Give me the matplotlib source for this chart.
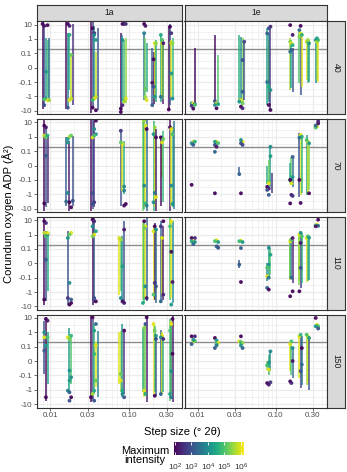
"""Corundum oxygen ADP vs step size, faceted by pattern (1a/1e) and count time."""
import matplotlib

matplotlib.use("Agg")
import matplotlib.pyplot as plt
import numpy as np
from matplotlib.cm import ScalarMappable
from matplotlib.colors import LogNorm

plt.rcParams.update(
    {
        "font.family": ["Liberation Sans", "DejaVu Sans"],
        "mathtext.fontset": "custom",
        "mathtext.rm": "Liberation Sans",
        "mathtext.it": "Liberation Sans:italic",
        "axes.linewidth": 0.8,
    }
)

W, H = 347, 472

COLS = ["1a", "1e"]
ROWS = ["40", "70", "110", "150"]
STEP_SIZE = [0.0088, 0.0175, 0.036, 0.082, 0.16, 0.21, 0.26, 0.34]
X_TICKS = [0.01, 0.03, 0.1, 0.3]
X_TICK_LABELS = ["0.01", "0.03", "0.10", "0.30"]
Y_TICKS = [10, 1, 0.1, 0, -0.1, -1, -10]
Y_TICK_LABELS = ["10", "1", "0.1", "0", "-0.1", "-1", "-10"]
REFERENCE_ADP = 0.2
COLOR_TICKS = [1e2, 1e3, 1e4, 1e5, 1e6]
COLOR_TICK_LABELS = [r"$\mathregular{10^{%d}}$" % k for k in range(2, 7)]

# bars: (step cluster, dodge slot, low, high, log10 max intensity)
# points: (step cluster, dodge slot, ADP, log10 max intensity)
BARS_1A_40 = [
    (0, -2, -6.9, 16, 2.0), (0, -1, -5.3, 11, 2.8), (0, 0, -1.4, 1.1, 4.2), (0, 1, -1.05, 0.85, 4.8), (0, 2, -2.3, 1.1, 3.5),
    (1, -2, -6.9, 16, 2.0), (1, -1, -5.3, 2.5, 3.8), (1, 0, -0.36, 1.9, 4.5), (1, 1, -1.4, 0.1, 5.8), (1, 2, -4, 11, 2.5),
    (2, -2, -15, 16, 2.0), (2, -1, -6.9, 16, 2.8), (2, 0, -1.8, 8, 4.0), (2, 1, -1.4, 0.13, 5.8), (2, 2, -9, 5.5, 3.0),
    (3, -1, -15, 2.5, 2.0), (3, 0, -2.3, 1.9, 4.0), (3, 1, -2.3, 0.85, 4.9), (3, 2, -3, 1.1, 5.5),
    (4, -1, -1.8, 2.5, 3.6), (4, 0, -1.4, 1.1, 5.2), (4, 1, -0.5, 0.5, 4.6),
    (5, -2, -4, 0.22, 3.2), (5, -1, -3.1, 0.13, 2.0), (5, 0, -1.4, 0.5, 6.0), (5, 1, -2.3, 0.85, 4.6),
    (6, -1, -2.3, 1.9, 4.5), (6, 0, -1.05, 1.1, 6.0), (6, 1, -3.1, 0.85, 2.2), (6, 1, -1.4, 0.5, 5.2),
    (7, -2, -9, 8, 2.0), (7, -1, -4, 11, 3.0), (7, 0, -1.05, 0.85, 6.0), (7, 1, -1.4, 1.1, 4.8),
]
POINTS_1A_40 = [
    (0, -2, 11, 2.0), (0, -1, 8, 2.2), (0, 1, 9, 2.0), (0, 0, -0.028, 4.2), (0, -1, -4, 3.0), (0, 0, -1.4, 4.2),
    (0, 1, -1.8, 6.0), (0, 2, -1.8, 5.6), (0, -1, -1.6, 5.0),
    (1, -1, 11, 2.0), (1, 0, 1.9, 4.5), (1, 1, 0.088, 5.2), (1, 1, -1.4, 5.8), (1, 0, -1.8, 6.0), (1, -1, -6, 3.0), (1, 0, 8, 2.3),
    (2, -1, 5.5, 2.0), (2, 0, 2.5, 2.5), (2, -1, -6, 2.0), (2, 1, -9, 2.0), (2, 0, 1.9, 4.0), (2, 1, 0.85, 4.2),
    (2, 1, -1.05, 5.8), (2, 0, -1.4, 6.0), (2, -1, -1.8, 4.8),
    (3, 0, 11, 2.0), (3, 1, 11, 2.2), (3, 2, 11, 2.5), (3, -1, -6.9, 2.0), (3, 0, -4, 2.4), (3, 0, 0.85, 4.0),
    (3, 1, -1.8, 4.8), (3, 2, -1.4, 6.0), (3, 1, -2.3, 5.6), (3, -1, -12, 2.0),
    (4, -1, 11, 2.0), (4, 0, 8, 2.2), (4, -1, 2.5, 3.8), (4, 0, -0.3, 5.2), (4, 0, -1.1, 5.6), (4, 1, -1.8, 6.0),
    (5, 0, 0.5, 6.0), (5, -1, 0.058, 2.0), (5, -2, -0.11, 2.2), (5, -1, -0.21, 3.0), (5, -2, -4, 3.2), (5, 1, 0.5, 5.5), (5, 0, -1.05, 4.2),
    (6, -1, 1.9, 4.5), (6, 0, 0.5, 6.0), (6, 1, 0.5, 2.2), (6, 0, 0.85, 5.0), (6, -1, -1.05, 3.5),
    (7, -1, 7, 2.0), (7, 0, 2.5, 2.5), (7, -2, -8, 2.0), (7, 0, 0.5, 6.0), (7, 1, 0.5, 5.5), (7, 0, -0.04, 4.2), (7, 1, -1.4, 4.0),
]

BARS_1A_70 = [
    (0, -1, -14, 17, 2.0), (0, 0, -8, 4.5, 3.0), (0, 1, -4.3, 0.9, 2.4),
    (1, -2, -6.1, 0.9, 3.2), (1, 2, -6.1, 1.2, 3.0), (1, 0, -14, 0.53, 2.2),
    (2, -2, -14, 17, 2.0), (2, -1, -10.5, 17, 3.0), (2, 0, -8, 13, 2.6),
    (3, -1, -6.1, 2.6, 3.0), (3, 0, -0.55, 0.4, 6.0), (3, 1, -0.95, 0.53, 4.6),
    (4, -2, -14, 17, 5.3), (4, -1, -10.5, 13, 4.5), (4, 0, -8, 5.9, 6.0), (4, 1, -14, 17, 3.4),
    (5, -1, -14, 13, 4.8), (5, 0, -8, 4.5, 6.0), (5, 1, -14, 3.4, 2.2),
    (6, 0, -0.082, 0.53, 6.0), (6, -1, -6.1, 1.2, 2.0), (6, 1, -3.2, 2.6, 4.8),
    (7, -1, -14, 17, 2.2), (7, 0, -6.1, 5.9, 6.0), (7, 1, -8, 4.5, 4.8), (7, 2, -10.5, 13, 3.6),
]
POINTS_1A_70 = [
    (0, -1, 5.9, 2.0), (0, 0, 4.5, 2.2), (0, -1, 1.2, 5.8), (0, 0, 0.9, 5.2), (0, 1, 1.2, 4.6), (0, 0, 0.068, 3.2), (0, -1, -4.3, 2.0),
    (1, 0, 1.0, 5.8), (1, 1, 1.2, 5.2), (1, -1, 0.69, 4.4), (1, -1, 0.4, 4.2), (1, -1, -0.8, 3.8), (1, -2, -3.2, 3.4),
    (1, 0, -3.6, 2.0), (1, 1, -8, 2.0), (1, 2, -2.8, 3.0),
    (2, 1, 13, 2.0), (2, 0, 3.4, 4.0), (2, 1, 1.5, 4.2), (2, -1, 0.9, 6.0), (2, 0, 1.2, 5.0), (2, -1, -0.8, 3.0),
    (2, 0, -3.6, 2.6), (2, -1, -4.7, 3.0),
    (3, -1, 2.6, 2.6), (3, 0, 0.31, 6.0), (3, -1, 0.4, 5.2), (3, 1, -0.29, 4.0), (3, 1, -0.55, 3.8), (3, 2, -4.7, 2.0), (3, 1, -6.1, 2.0),
    (4, -1, 13, 5.6), (4, 0, 5.9, 6.0), (4, 1, 3.4, 2.0), (4, -1, -0.25, 4.0), (4, 0, -4.3, 4.8), (4, 1, -6.1, 3.8),
    (5, 0, 4.5, 5.5), (5, -1, 1.5, 4.2), (5, 1, 0.9, 2.0), (5, 0, -0.8, 3.6), (5, 1, -1.6, 6.0), (5, -1, -3.6, 4.0),
    (6, -1, 0.9, 2.0), (6, 0, 0.4, 6.0), (6, 1, 0.69, 5.2),
    (7, -1, 4.5, 2.0), (7, 0, 3.4, 6.0), (7, 1, 1.5, 5.0), (7, 0, -0.25, 4.0), (7, 1, -4.7, 4.2),
]

BARS_1A_110 = [
    (0, -1, -7.4, 14, 2.0), (0, 0, -4.4, 1.7, 3.0), (0, 1, -0.88, 1.3, 4.5),
    (1, -1, -7.4, 1.7, 3.0),
    (2, -1, -7.4, 16, 2.0), (2, 0, -5.7, 14, 3.0),
    (3, -2, -1.5, 0.57, 6.0), (3, -1, -0.88, 0.44, 5.2), (3, 0, -4.4, 0.75, 4.2), (3, 1, -5.7, 8.3, 3.0),
    (4, -2, -3.3, 6.3, 5.6), (4, -1, -5.7, 8.3, 4.8), (4, 0, -2.6, 3.7, 6.0), (4, 1, -4.4, 14, 3.2),
    (5, -1, -3.3, 3.7, 6.0), (5, 0, -3.3, 6.3, 2.2), (5, 1, -5.7, 2.8, 3.4),
    (6, -1, -5.7, 8.3, 3.3), (6, 0, -1.5, 0.75, 6.0), (6, 1, -3.3, 3.7, 2.2),
    (7, -1, -3.3, 14, 5.0), (7, 0, -2.6, 11, 6.0), (7, 1, -5.7, 8.3, 4.0),
]
POINTS_1A_110 = [
    (0, -1, 8.3, 2.0), (0, 0, 6.3, 2.4), (0, -1, 1.3, 5.8), (0, 0, 0.75, 5.0), (0, 1, 0.98, 4.2), (0, 0, 0.025, 3.2),
    (0, -1, -3.3, 2.0), (0, 1, 1.3, 6.0),
    (1, 1, 1.3, 6.0), (1, 0, 0.98, 5.2), (1, -1, 0.57, 4.2), (1, 0, -0.23, 4.0), (1, -1, -2.6, 2.6), (1, 0, -7.4, 2.0),
    (1, 1, -5.7, 2.0), (1, 1, -3.3, 3.2),
    (2, -1, 11, 2.0), (2, 0, 8.3, 2.4), (2, -1, 3.7, 4.0), (2, 1, 1.7, 4.4), (2, 0, 0.98, 6.0), (2, -1, 0.75, 5.4),
    (2, 0, -2.6, 3.0), (2, 1, -4.4, 2.0),
    (3, -2, 0.57, 6.0), (3, -1, 0.44, 5.6), (3, 1, 2.2, 2.2), (3, 0, -0.021, 4.3), (3, 0, -4.4, 2.0), (3, 1, -5.7, 2.2), (3, -1, -2.6, 4.0),
    (4, -1, 8.3, 2.0), (4, 0, 3.7, 6.0), (4, -1, 2.8, 5.2), (4, 1, -2.6, 2.2), (4, 0, -0.4, 4.0), (4, -2, -5.7, 4.4),
    (5, 0, 3.7, 2.0), (5, -1, 1.7, 6.0), (5, 1, 2.2, 4.2), (5, 0, -0.23, 2.6), (5, 1, -0.4, 3.0), (5, -1, -1.5, 5.0),
    (6, 1, 8.3, 2.0), (6, -1, 3.7, 2.6), (6, 0, 0.57, 6.0), (6, -1, -4.4, 3.4), (6, 1, -1.5, 2.4),
    (7, 0, 8.3, 6.0), (7, -1, 3.7, 5.0), (7, 0, 0.08, 2.0), (7, 1, -0.2, 2.2), (7, 0, -7.4, 4.2),
]

BARS_1A_150 = [
    (0, 0, -5.7, 11, 2.0), (0, -1, -0.09, 6.3, 3.0), (0, 1, -0.4, 0.98, 4.4),
    (1, 0, -1.5, 1.9, 4.3), (1, 1, -0.4, 0.57, 5.0),
    (2, -2, -7.4, 16, 2.0), (2, -1, -5.7, 8.3, 3.0), (2, 0, -1.95, 3.7, 4.8), (2, 1, -0.67, 0.2, 6.0), (2, 2, -3.3, 1.3, 3.8),
    (3, -1, -1.5, 1.3, 5.6), (3, 0, -3.3, 3.7, 4.2), (3, 1, -1.95, 1.3, 2.5), (3, -2, -0.4, 0.98, 6.0),
    (4, -1, -3.3, 2.6, 6.0), (4, 0, -1.95, 3.7, 5.2), (4, 1, -7.4, 16, 2.2), (4, -2, -1.5, 1.9, 4.6),
    (5, -1, -1.95, 3.7, 6.0), (5, 0, -1.5, 2.6, 5.0), (5, 1, -2.6, 0.44, 3.2),
    (6, -1, -2.6, 1.5, 3.2), (6, 0, -1.95, 0.98, 6.0), (6, 1, -1.5, 0.57, 4.6),
    (7, -1, -5.7, 8.3, 5.0), (7, 0, -3.3, 6.3, 6.0), (7, 1, -7.4, 16, 2.2), (7, 0, -1.95, 3.7, 4.2),
]
POINTS_1A_150 = [
    (0, 0, 8.3, 2.0), (0, 1, 6.3, 2.2), (0, -1, 0.98, 4.2), (0, -1, 0.44, 6.0), (0, 1, 0.44, 5.0), (0, 0, 0.115, 4.3),
    (0, -1, 0.072, 3.2), (0, 0, -3.3, 2.0),
    (1, -1, 0.44, 6.0), (1, 0, 0.34, 5.4), (1, 1, 0.57, 4.8), (1, 0, -0.067, 4.2), (1, 1, -0.135, 4.0), (1, 0, -0.23, 4.3),
    (1, -1, -1.15, 3.8), (1, 0, -1.5, 3.2), (1, 1, -3.3, 2.0), (1, 0, -5.7, 3.0),
    (2, -1, 10.8, 2.0), (2, 1, 3.7, 3.4), (2, 0, 1.3, 4.4), (2, 1, 0.115, 6.0), (2, 0, 0.049, 4.8), (2, 1, -0.23, 5.2),
    (2, 0, -1.15, 4.6), (2, -1, -1.95, 5.6), (2, -2, -3.3, 2.0), (2, 0, -5.7, 3.0),
    (3, 1, 1.3, 2.0), (3, -1, -0.23, 6.0), (3, 0, -1.15, 4.5), (3, 0, -1.95, 4.0), (3, 1, -3.3, 3.0), (3, -1, -0.09, 5.2),
    (4, 1, 10.8, 2.0), (4, 0, 3.7, 3.0), (4, -1, -1.15, 6.0), (4, 0, -1.95, 4.5), (4, -1, 2.0, 5.4),
    (5, -1, 3.7, 6.0), (5, 0, 1.3, 5.2), (5, 1, 0.57, 4.2), (5, 1, 0.34, 3.0), (5, 0, -2.6, 2.0),
    (6, 0, 0.57, 6.0), (6, -1, 0.44, 4.0), (6, 1, 0.34, 2.4), (6, -1, -1.95, 3.4),
    (7, 1, 8.3, 2.0), (7, 0, 3.7, 6.0), (7, -1, 1.3, 5.0), (7, 1, 0.05, 2.0), (7, 0, -0.07, 4.0), (7, -1, -1.95, 4.4), (7, 0, -3.3, 3.6),
]

BARS_1E_40 = [
    (0, 1, -3.0, 0.22, 2.0),
    (1, -1, -2.3, 1.9, 2.0), (1, 1, -3.9, 0.09, 5.0),
    (2, -1, -2.3, 1.9, 4.6), (2, 0, -3.0, 1.4, 4.0), (2, 1, -2.3, 1.1, 5.4), (2, 2, -1.8, 0.64, 3.0),
    (3, -1, -3.9, 5.4, 4.4), (3, 0, -1.5, 0.83, 5.8), (3, 1, -8.7, 7.1, 2.6), (3, 0, -2.3, 2.4, 3.6),
    (4, -1, -0.36, 1.1, 5.6), (4, 0, -0.27, 0.83, 4.4), (4, 1, -0.47, 0.22, 3.0),
    (5, 0, -0.8, 2.4, 3.0), (5, -1, -0.12, 4.1, 5.0), (5, 1, -0.21, 2.4, 6.0),
    (6, -1, -0.086, 0.83, 6.0), (6, 0, -0.12, 0.64, 5.0), (6, 1, -0.1, 0.83, 4.2),
    (7, -1, -0.12, 1.1, 4.0), (7, 0, -0.086, 0.83, 5.4), (7, 1, -0.1, 0.83, 6.0),
]
POINTS_1E_40 = [
    (0, -1, -3.0, 4.2), (0, 0, -3.0, 6.0), (0, 1, -3.4, 3.2), (0, -1, -4.5, 2.6), (0, 0, -7, 2.0), (0, 1, -3.9, 5.0),
    (1, -1, -2.1, 3.0), (1, 0, -3.0, 6.0), (1, 1, -3.4, 4.4), (1, 0, -6.6, 2.0), (1, -1, -3.9, 4.0),
    (2, 2, 0.64, 2.8), (2, 1, 0.053, 3.0), (2, 1, -0.47, 3.2), (2, 0, -1.8, 6.0), (2, -1, -2.3, 4.2), (2, 1, -3.0, 5.2),
    (2, 0, -5.1, 2.0), (2, 1, -6.6, 2.4),
    (3, 1, 7.1, 2.4), (3, 0, 5.4, 3.0), (3, -1, 2.4, 3.2), (3, -1, -0.1, 3.6), (3, 0, -0.21, 4.6), (3, 1, -0.36, 4.2),
    (3, 0, -3.9, 2.0), (3, 1, -8.7, 2.0),
    (4, -1, 9.1, 2.0), (4, 1, 1.9, 2.2), (4, -1, 0.64, 5.4), (4, 0, 0.49, 6.0), (4, 1, 0.37, 4.6), (4, 0, 0.17, 3.2), (4, -1, 0.13, 3.6),
    (5, 0, 8.0, 2.0), (5, -1, 4.1, 3.4), (5, 0, 2.4, 6.0), (5, 1, 1.9, 4.6), (5, -1, 1.4, 5.4),
    (6, -1, 0.64, 6.0), (6, 0, 0.64, 5.0), (6, 1, 0.49, 4.2), (6, 0, 0.83, 5.6),
    (7, -1, 0.83, 4.2), (7, 0, 0.64, 5.8), (7, 1, 0.83, 5.0), (7, 0, 1.1, 4.4),
]

BARS_1E_70 = [
    (2, -1, -0.06, -0.01, 3.2),
    (3, 1, -0.3, 0.2, 4.2), (3, 0, -0.2, 0.04, 5.2), (3, 2, -0.85, -0.05, 2.6), (3, -1, -0.2, 0.0, 4.6),
    (4, 0, -0.22, 0.061, 5.2), (4, 1, -0.3, 0.061, 3.4), (4, -1, -0.17, 0.02, 4.6),
    (5, -1, -1.5, 1.7, 3.0), (5, 0, -1.1, 1.7, 6.0), (5, 1, -0.85, 1.0, 4.8),
    (6, -1, -1.1, 1.4, 4.4), (6, 0, -0.85, 0.59, 6.0), (6, 1, -0.5, 0.45, 5.4),
]
POINTS_1E_70 = [
    (0, 0, 0.45, 6.0), (0, 1, 0.45, 4.6), (0, -1, 0.35, 4.0), (0, 0, 0.27, 3.2), (0, -1, -0.22, 2.0),
    (1, 0, 0.45, 6.0), (1, -1, 0.45, 4.4), (1, 1, 0.35, 5.0), (1, -1, 0.27, 3.0), (1, 0, 0.2, 2.2), (1, -1, 0.095, 3.4), (1, -1, -0.85, 2.0),
    (2, 1, 0.45, 6.0), (2, 0, 0.59, 4.0), (2, 0, 0.35, 3.0), (2, 1, 0.27, 2.8), (2, -1, -0.06, 3.2), (2, 0, -0.85, 2.0),
    (3, 1, 0.2, 4.0), (3, 1, 0.065, 4.3), (3, 0, -0.13, 5.0), (3, 0, -0.17, 6.0), (3, -1, -0.3, 2.0), (3, 0, -0.4, 2.2),
    (3, -1, -0.5, 3.0), (3, 0, -1.1, 3.2),
    (4, 0, -0.17, 6.0), (4, 1, -0.08, 4.2), (4, -1, -0.1, 4.8), (4, 1, 0.06, 3.2), (4, -1, -0.1, 2.0), (4, 0, -1.1, 2.2),
    (4, -1, -4.3, 2.0), (4, 1, -1.3, 2.6),
    (5, 0, 1.3, 6.0), (5, 1, 1.0, 4.6), (5, -1, 0.85, 3.6), (5, -1, -0.1, 2.0), (5, 0, -4.0, 2.0),
    (6, 0, 0.45, 6.0), (6, -1, 0.59, 5.0), (6, 1, 0.35, 4.2), (6, 1, -0.85, 2.0),
    (7, 0, 5.0, 6.0), (7, -1, 4.3, 5.0), (7, 1, 8.5, 2.0), (7, 1, 12, 2.4), (7, -1, 6, 3.4),
]

BARS_1E_110 = [
    (2, -1, -0.03, 0.02, 3.0),
    (3, 0, -0.1, 0.15, 4.4), (3, 1, -0.08, 0.115, 5.0), (3, -1, -0.18, 0.0, 4.0),
    (4, -1, -0.15, 0.57, 6.0), (4, 0, -0.12, 0.57, 3.4), (4, 1, -0.23, 0.44, 2.4), (4, -1, -0.1, 0.4, 5.0),
    (5, 0, -0.51, 1.3, 2.6), (5, -1, -0.18, 0.98, 6.0), (5, 1, -0.23, 1.3, 4.6), (5, -1, -0.3, 0.75, 5.4),
    (6, -1, -0.2, 0.75, 6.0), (6, 0, -0.18, 0.75, 5.0), (6, 1, -0.15, 0.57, 4.2),
]
POINTS_1E_110 = [
    (0, -1, 0.57, 2.0), (0, 1, 0.57, 2.4), (0, 0, 0.34, 6.0), (0, -1, 0.34, 4.6), (0, 0, 0.22, 3.2), (0, 1, 0.3, 4.0),
    (1, 0, 0.4, 6.0), (1, -1, 0.34, 5.0), (1, 1, 0.3, 4.2), (1, 0, 0.15, 3.2), (1, 1, 0.12, 3.0),
    (2, 0, 0.37, 6.0), (2, -1, 0.34, 4.8), (2, 1, 0.3, 4.2), (2, 0, 0.115, 3.2), (2, -1, -0.009, 3.2), (2, 0, -0.2, 2.0),
    (3, 0, 0.12, 4.0), (3, 1, 0.06, 4.4), (3, 0, -0.009, 4.2), (3, -1, -0.03, 5.0), (3, -1, -0.09, 6.0), (3, 0, -0.1, 3.6),
    (3, -1, -0.51, 3.2), (3, 0, -0.67, 2.0),
    (4, -1, 0.34, 6.0), (4, 0, 0.44, 5.0), (4, 1, 0.57, 2.2), (4, 0, -0.1, 3.4), (4, -1, -1.95, 2.0), (4, 1, -0.88, 2.0),
    (5, -1, 0.98, 6.0), (5, 0, 1.3, 4.0), (5, 1, 0.75, 5.0), (5, 0, 0.26, 2.2), (5, 0, -0.032, 3.0), (5, -1, -0.88, 2.0),
    (6, -1, 0.57, 6.0), (6, 0, 0.75, 5.0), (6, 1, 0.6, 4.2),
    (7, 1, 10.7, 2.0), (7, 0, 4.9, 6.0), (7, -1, 4.3, 5.0), (7, 1, 4.0, 3.4), (7, -1, 3.7, 2.2),
]

BARS_1E_150 = [
    (3, 0, -0.095, 0.045, 4.8), (3, 1, -0.07, 0.067, 4.0), (3, -1, -0.06, 0.0, 5.6),
    (4, -1, -0.072, 0.23, 6.0), (4, 0, -0.095, 0.18, 5.0), (4, 1, -0.15, 0.09, 3.4),
    (5, 0, -0.75, 0.67, 2.8), (5, -1, -0.15, 0.67, 6.0), (5, 1, -0.44, 0.52, 3.6),
    (6, -1, -0.44, 0.88, 5.6), (6, 0, -0.34, 0.67, 6.0), (6, 1, -0.98, 0.52, 3.0),
]
POINTS_1E_150 = [
    (0, -1, 0.52, 2.0), (0, 1, 0.52, 2.4), (0, 0, 0.23, 6.0), (0, 1, 0.25, 5.0), (0, -1, 0.15, 3.2), (0, 0, 0.3, 4.2),
    (1, -1, 0.4, 2.0), (1, 0, 0.27, 4.2), (1, 1, 0.18, 6.0), (1, 0, 0.15, 5.0), (1, -1, 0.09, 3.2), (1, 0, 0.12, 3.6),
    (2, 0, 0.52, 2.0), (2, -1, 0.23, 6.0), (2, 0, 0.2, 4.6), (2, 1, 0.18, 5.4), (2, 1, 0.09, 3.2), (2, 0, 0.12, 4.0),
    (3, 1, 0.067, 4.0), (3, 0, -0.01, 4.2), (3, -1, -0.03, 4.8), (3, 0, -0.06, 6.0), (3, -1, -0.34, 2.0), (3, 0, -0.44, 2.2), (3, 1, -0.3, 2.6),
    (4, -1, 0.15, 6.0), (4, 0, 0.23, 5.0), (4, 1, 0.09, 4.0), (4, 1, 0.0, 2.2), (4, -1, -0.26, 2.0), (4, 0, -0.34, 2.4),
    (5, -1, 0.52, 6.0), (5, 0, 0.67, 4.8), (5, 1, 0.09, 2.0), (5, 1, -0.025, 3.4), (5, 0, -0.07, 3.0),
    (6, 0, 0.52, 6.0), (6, -1, 0.67, 5.0), (6, 1, 0.4, 4.2),
    (7, -1, 9.8, 2.0), (7, 0, 3.3, 6.0), (7, 1, 2.6, 5.0), (7, -1, 2.6, 4.2), (7, 1, 1.8, 3.0),
]

PANELS = {
    ("1a", "40"): (BARS_1A_40, POINTS_1A_40),
    ("1a", "70"): (BARS_1A_70, POINTS_1A_70),
    ("1a", "110"): (BARS_1A_110, POINTS_1A_110),
    ("1a", "150"): (BARS_1A_150, POINTS_1A_150),
    ("1e", "40"): (BARS_1E_40, POINTS_1E_40),
    ("1e", "70"): (BARS_1E_70, POINTS_1E_70),
    ("1e", "110"): (BARS_1E_110, POINTS_1E_110),
    ("1e", "150"): (BARS_1E_150, POINTS_1E_150),
}

# layout in pixels (top-left origin)
COL_X = [(37, 181.5), (184.5, 327)]
ROW_Y = [(21.2, 114.2), (119.0, 212.0), (216.8, 309.8), (314.5, 407.5)]
STRIP_TOP = (4.5, 21.2)
STRIP_RIGHT = (327, 345)
XLIM = (0.00679, 0.458)
YLIM = (-17, 17)
DODGE = 0.021  # decades per dodge slot

NORM = LogNorm(10 ** 1.95, 10 ** 6.2)
CMAP = plt.get_cmap("viridis")
GRID = "#EBEBEB"
DARK = "#333333"


def box(x0, y0, x1, y1):
    return [x0 / W, 1 - y1 / H, (x1 - x0) / W, (y1 - y0) / H]


def xpos(cluster, slot):
    # tighter dodge where step sizes sit close together
    width = DODGE if cluster < 4 else DODGE * 0.75
    return STEP_SIZE[cluster] * 10 ** (slot * width)


def strip(fig, rect, text, rotation=0):
    ax = fig.add_axes(rect)
    ax.set_facecolor("#D9D9D9")
    ax.set_xticks([])
    ax.set_yticks([])
    for s in ax.spines.values():
        s.set_color(DARK)
        s.set_linewidth(0.8)
    ax.text(0.5, 0.5, text, transform=ax.transAxes, ha="center", va="center",
            fontsize=6.2, color="#1A1A1A", rotation=rotation)


def draw_panel(ax, bars, points, left, bottom):
    ax.set_xscale("log")
    ax.set_yscale("symlog", linthresh=0.1, linscale=0.9)
    ax.set_xlim(*XLIM)
    ax.set_ylim(*YLIM)
    minor_x = [k * 10.0 ** e for e in (-3, -2, -1) for k in range(1, 10)]
    for v in minor_x:
        if XLIM[0] < v < XLIM[1]:
            ax.axvline(v, color=GRID, lw=0.45, zorder=0)
    for v in X_TICKS:
        ax.axvline(v, color=GRID, lw=0.9, zorder=0)
    for v in [3.16, 0.316, 0.05, -0.05, -0.316, -3.16]:
        ax.axhline(v, color=GRID, lw=0.45, zorder=0)
    for v in Y_TICKS:
        ax.axhline(v, color=GRID, lw=0.9, zorder=0)
    ax.axhline(REFERENCE_ADP, color="#8C8C8C", lw=1.0, zorder=1)

    bx = [xpos(c, s) for c, s, *_ in bars]
    blo = [b[2] for b in bars]
    bhi = [b[3] for b in bars]
    bcol = [CMAP(NORM(10 ** b[4])) for b in bars]
    ax.vlines(bx, blo, bhi, colors=bcol, lw=1.4, alpha=0.75, zorder=2)

    px = [xpos(c, s) for c, s, *_ in points]
    py = [p[2] for p in points]
    pcol = [CMAP(NORM(10 ** p[3])) for p in points]
    ax.scatter(px, py, c=pcol, s=7.5, lw=0, alpha=0.95, zorder=3)

    ax.minorticks_off()
    ax.set_xticks(X_TICKS)
    ax.set_yticks(Y_TICKS)
    ax.tick_params(length=2.2, width=0.5, color=DARK, labelsize=5.8, labelcolor="#4D4D4D", pad=1.2)
    if bottom:
        ax.set_xticklabels(X_TICK_LABELS)
    else:
        ax.set_xticklabels([])
        ax.tick_params(axis="x", length=0)
    if left:
        ax.set_yticklabels(Y_TICK_LABELS)
    else:
        ax.set_yticklabels([])
        ax.tick_params(axis="y", length=0)
    for s in ax.spines.values():
        s.set_color(DARK)
        s.set_linewidth(0.8)
        s.set_zorder(5)


def main():
    fig = plt.figure(figsize=(W / 100, H / 100), dpi=100)
    for ci, col in enumerate(COLS):
        x0, x1 = COL_X[ci]
        strip(fig, box(x0, STRIP_TOP[0], x1, STRIP_TOP[1]), col)
        for ri, row in enumerate(ROWS):
            y0, y1 = ROW_Y[ri]
            ax = fig.add_axes(box(x0, y0, x1, y1))
            bars, points = PANELS[(col, row)]
            draw_panel(ax, bars, points, left=ci == 0, bottom=ri == len(ROWS) - 1)
    for ri, row in enumerate(ROWS):
        y0, y1 = ROW_Y[ri]
        strip(fig, box(STRIP_RIGHT[0], y0, STRIP_RIGHT[1], y1), row, rotation=-90)

    fig.text(182 / W, 1 - 432 / H, "Step size (° 2θ)", ha="center", va="center", fontsize=8)
    fig.text(8 / W, 1 - 214 / H, "Corundum oxygen ADP (Å²)", ha="center", va="center",
             rotation=90, fontsize=8)

    cax = fig.add_axes(box(174, 442, 244, 455))
    cbar = fig.colorbar(ScalarMappable(norm=NORM, cmap=CMAP), cax=cax, orientation="horizontal")
    cbar.outline.set_visible(False)
    cbar.set_ticks(COLOR_TICKS)
    cbar.set_ticklabels(COLOR_TICK_LABELS)
    cax.minorticks_off()
    cax.tick_params(axis="x", direction="in", color="white", length=2.5, width=0.6,
                    top=True, labelsize=6, labelcolor="#333333", pad=5)
    fig.text(145 / W, 1 - 455.5 / H, "Maximum\nintensity", ha="center", va="center",
             fontsize=8, linespacing=0.95)

    fig.savefig("out.png", dpi=100)


if __name__ == "__main__":
    main()
